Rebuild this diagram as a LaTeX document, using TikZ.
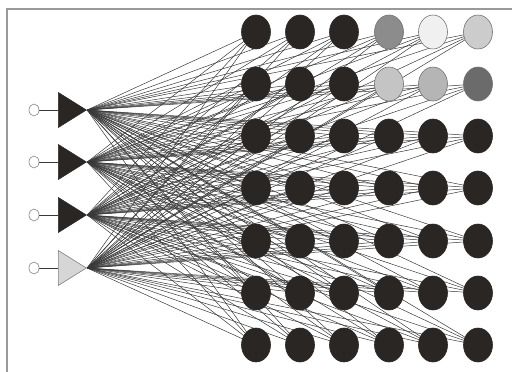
\documentclass[tikz,border=0pt]{standalone}
\usepackage{xcolor}
\usepackage{tikz}
\usetikzlibrary{shapes.geometric, backgrounds}

\definecolor{oscuro}{RGB}{42,38,36}

\begin{document}
\begin{tikzpicture}[x=1pt, y=-1pt,
    neurona/.style={draw=oscuro, ellipse, minimum width=29pt, minimum height=34pt,
                    inner sep=0pt, line width=0.6pt},
    claro/.style={neurona, draw=black!55},
    entrada/.style={draw=gray, ellipse, fill=white, minimum width=10pt,
                    minimum height=12pt, inner sep=0pt, line width=0.6pt},
    capa/.style={draw=oscuro, isosceles triangle, isosceles triangle stretches,
                 minimum width=35pt, minimum height=28pt, inner sep=0pt,
                 line width=0.6pt, fill=oscuro},
    peso/.style={line width=0.5pt, draw=black!78},
]
\useasboundingbox (0,0) rectangle (512,372);
%% Marco
\draw[gray!80, line width=1.3pt] (7,372) -- (7,9) -- (512,9);

%% Entradas y triangulos
\foreach \t/\y in {1/110, 2/162, 3/215} {
  \node[entrada] at (34,\y) (x\t) {};
  \node[capa, anchor=west] at (58,\y) (t\t) {};
}
\node[entrada] at (34,268) (x4) {};
\node[capa, anchor=west, fill=black!16, draw=black!50] at (58,268) (t4) {};

%% Rejilla: filas 1 y 2 con grises
\foreach \c/\x in {1/256, 2/300, 3/344} {
  \node[neurona, fill=oscuro] at (\x,32) (e-1-\c) {};
  \node[neurona, fill=oscuro] at (\x,84) (e-2-\c) {};
}
\foreach \c/\x/\fa/\fb in {4/389/black!45/black!23, 5/433/black!6/black!29,
                           6/478/black!20/black!58} {
  \node[claro, fill=\fa] at (\x,32) (e-1-\c) {};
  \node[claro, fill=\fb] at (\x,84) (e-2-\c) {};
}
\foreach \r/\y in {3/136, 4/188, 5/241, 6/293, 7/345}
  \foreach \c/\x in {1/256, 2/300, 3/344, 4/389, 5/433, 6/478}
    \node[neurona, fill=oscuro] at (\x,\y) (e-\r-\c) {};

%% Conexiones
\begin{scope}[on background layer]
\foreach \t in {1,...,4} {
  \draw[peso, line width=0.6pt] (x\t) -- (t\t);
  \foreach \r in {1,...,7}
    \foreach \c in {1,...,6}
      \draw[peso] (t\t.apex) -- (e-\r-\c.center);
}
\end{scope}
\end{tikzpicture}
\end{document}
